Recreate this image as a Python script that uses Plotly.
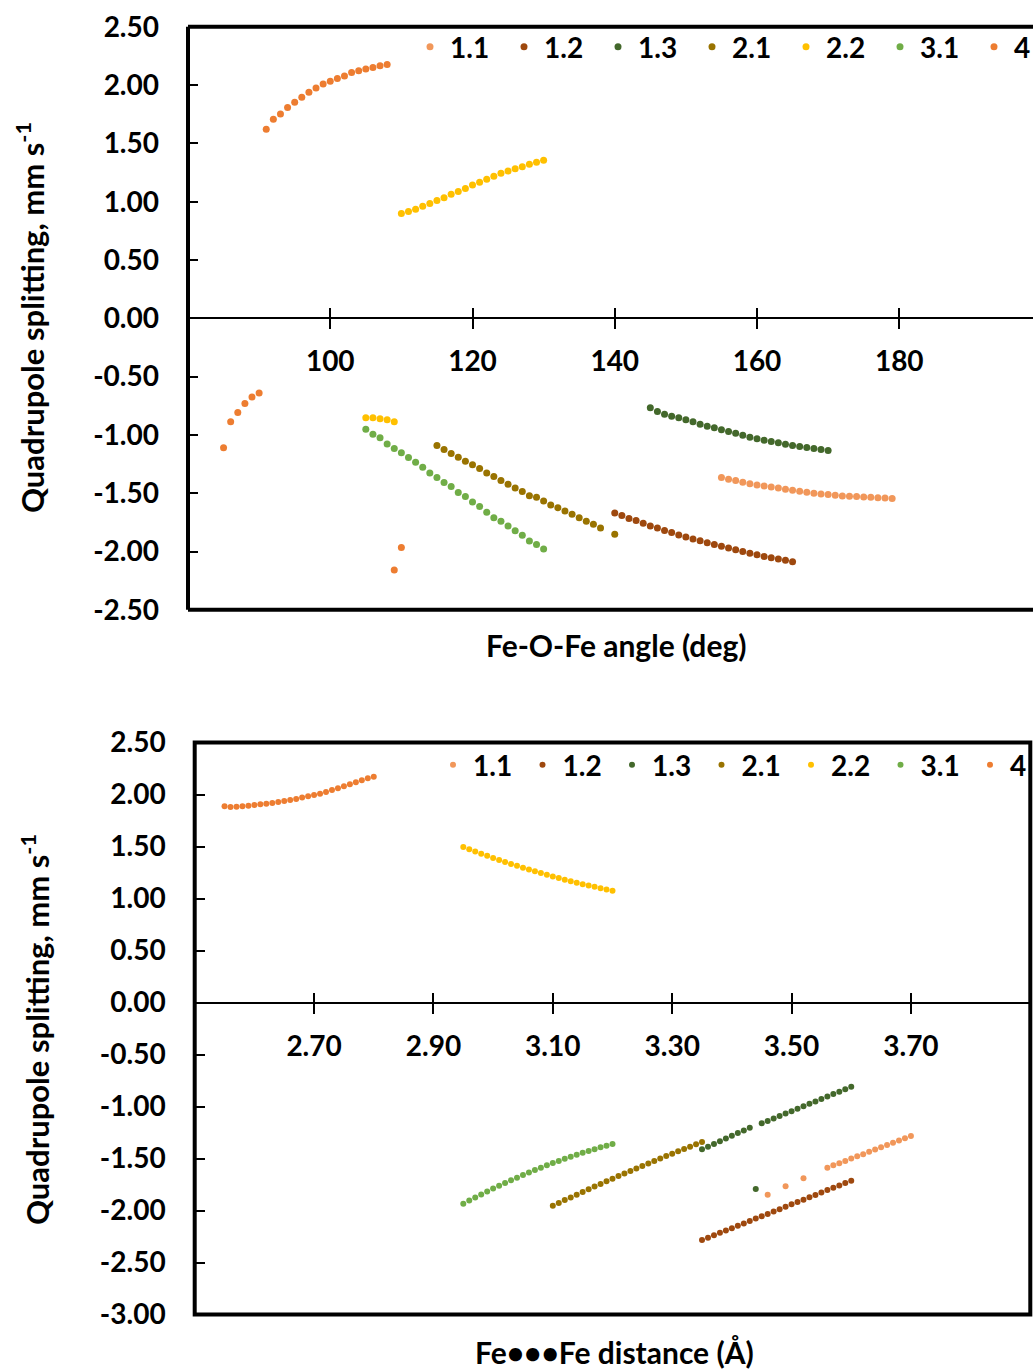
import plotly.graph_objects as go

W, H = 1033, 1369

# ---------------- DATA ----------------
series_names = ["1.1", "1.2", "1.3", "2.1", "2.2", "3.1", "4"]
series_colors = ["#F1975A", "#9E480E", "#43682B", "#997300", "#FFC000", "#70AD47", "#ED7D31"]

# Top panel: Fe-O-Fe angle (deg) vs quadrupole splitting
angle_11 = [155, 156, 157, 158, 159, 160, 161, 162, 163, 164, 165, 166, 167, 168, 169, 170,
            171, 172, 173, 174, 175, 176, 177, 178, 179]
qs_angle_11 = [-1.366, -1.380, -1.392, -1.406, -1.418, -1.429, -1.438, -1.446, -1.455, -1.466,
               -1.475, -1.483, -1.492, -1.501, -1.506, -1.512, -1.518, -1.523, -1.527, -1.529,
               -1.532, -1.535, -1.538, -1.541, -1.546]

angle_12 = [140, 141, 142, 143, 144, 145, 146, 147, 148, 149, 150, 151, 152, 153, 154, 155,
            156, 157, 158, 159, 160, 161, 162, 163, 164, 165]
qs_angle_12 = [-1.670, -1.692, -1.716, -1.735, -1.758, -1.781, -1.798, -1.819, -1.838, -1.858,
               -1.876, -1.893, -1.907, -1.924, -1.939, -1.956, -1.970, -1.985, -1.999, -2.014,
               -2.027, -2.042, -2.053, -2.065, -2.076, -2.088]

angle_13 = [145, 146, 147, 148, 149, 150, 151, 152, 153, 154, 155, 156, 157, 158, 159, 160,
            161, 162, 163, 164, 165, 166, 167, 168, 169, 170]
qs_angle_13 = [-0.767, -0.799, -0.822, -0.839, -0.853, -0.870, -0.888, -0.908, -0.925, -0.939,
               -0.956, -0.971, -0.985, -1.003, -1.020, -1.034, -1.045, -1.057, -1.068, -1.080,
               -1.091, -1.100, -1.108, -1.117, -1.125, -1.134]

angle_21 = [115, 116, 117, 118, 119, 120, 121, 122, 123, 124, 125, 126, 127, 128, 129, 130,
            131, 132, 133, 134, 135, 136, 137, 138, 140]
qs_angle_21 = [-1.091, -1.125, -1.160, -1.191, -1.226, -1.257, -1.289, -1.326, -1.357, -1.392,
               -1.423, -1.455, -1.486, -1.521, -1.535, -1.566, -1.601, -1.624, -1.652, -1.681,
               -1.710, -1.741, -1.767, -1.798, -1.853]

angle_22 = [105, 106, 107, 108, 109, 110, 111, 112, 113, 114, 115, 116, 117, 118, 119, 120,
            121, 122, 123, 124, 125, 126, 127, 128, 129, 130]
qs_angle_22 = [-0.853, -0.853, -0.862, -0.871, -0.888, 0.899, 0.917, 0.936, 0.962, 0.985,
               1.011, 1.034, 1.063, 1.088, 1.114, 1.143, 1.166, 1.192, 1.218, 1.243,
               1.263, 1.283, 1.300, 1.321, 1.338, 1.355]

angle_31 = [105, 106, 107, 108, 109, 110, 111, 112, 113, 114, 115, 116, 117, 118, 119, 120,
            121, 122, 123, 124, 125, 126, 127, 128, 129, 130]
qs_angle_31 = [-0.951, -0.994, -1.025, -1.077, -1.117, -1.154, -1.194, -1.234, -1.277, -1.326,
               -1.366, -1.409, -1.443, -1.495, -1.529, -1.575, -1.615, -1.664, -1.710, -1.741,
               -1.781, -1.821, -1.861, -1.910, -1.939, -1.979]

angle_4 = [85, 86, 87, 88, 89, 90, 91, 92, 93, 94, 95, 96, 97, 98, 99, 100,
           101, 102, 103, 104, 105, 106, 107, 108, 109, 110]
qs_angle_4 = [-1.111, -0.888, -0.808, -0.730, -0.676, -0.641, 1.621, 1.707, 1.753, 1.807,
              1.853, 1.896, 1.939, 1.976, 2.010, 2.034, 2.056, 2.079, 2.107, 2.122,
              2.139, 2.151, 2.165, 2.176, -2.159, -1.965]

# Bottom panel: Fe...Fe distance (A) vs quadrupole splitting
dist_11 = [3.46, 3.49, 3.52, 3.56, 3.57, 3.58, 3.59, 3.60, 3.61, 3.62, 3.63, 3.64, 3.65,
           3.66, 3.67, 3.68, 3.69, 3.70]
qs_dist_11 = [-1.848, -1.768, -1.691, -1.588, -1.566, -1.545, -1.523, -1.501, -1.479, -1.458,
              -1.436, -1.414, -1.393, -1.371, -1.349, -1.327, -1.306, -1.284]

dist_12 = [3.35, 3.36, 3.37, 3.38, 3.39, 3.40, 3.41, 3.42, 3.43, 3.44, 3.45, 3.46, 3.47,
           3.48, 3.49, 3.50, 3.51, 3.52, 3.53, 3.54, 3.55, 3.56, 3.57, 3.58, 3.59, 3.60]
qs_dist_12 = [-2.284, -2.261, -2.238, -2.215, -2.193, -2.170, -2.147, -2.124, -2.101, -2.078,
              -2.056, -2.033, -2.010, -1.987, -1.964, -1.941, -1.919, -1.896, -1.873, -1.850,
              -1.827, -1.804, -1.781, -1.759, -1.736, -1.713]

dist_13 = [3.35, 3.36, 3.37, 3.38, 3.39, 3.40, 3.41, 3.42, 3.43, 3.44, 3.45, 3.46, 3.47,
           3.48, 3.49, 3.50, 3.51, 3.52, 3.53, 3.54, 3.55, 3.56, 3.57, 3.58, 3.59, 3.60]
qs_dist_13 = [-1.412, -1.386, -1.360, -1.334, -1.308, -1.282, -1.256, -1.230, -1.204, -1.793,
              -1.162, -1.139, -1.115, -1.092, -1.068, -1.045, -1.021, -0.998, -0.974, -0.951,
              -0.927, -0.904, -0.880, -0.857, -0.833, -0.810]

dist_21 = [3.10, 3.11, 3.12, 3.13, 3.14, 3.15, 3.16, 3.17, 3.18, 3.19, 3.20, 3.21, 3.22,
           3.23, 3.24, 3.25, 3.26, 3.27, 3.28, 3.29, 3.30, 3.31, 3.32, 3.33, 3.34, 3.35]
qs_dist_21 = [-1.954, -1.927, -1.900, -1.874, -1.848, -1.821, -1.795, -1.770, -1.744, -1.719,
              -1.694, -1.669, -1.644, -1.620, -1.595, -1.571, -1.547, -1.524, -1.500, -1.477,
              -1.454, -1.431, -1.408, -1.386, -1.363, -1.341]

dist_22 = [2.95, 2.96, 2.97, 2.98, 2.99, 3.00, 3.01, 3.02, 3.03, 3.04, 3.05, 3.06, 3.07,
           3.08, 3.09, 3.10, 3.11, 3.12, 3.13, 3.14, 3.15, 3.16, 3.17, 3.18, 3.19, 3.20]
qs_dist_22 = [1.495, 1.473, 1.452, 1.431, 1.410, 1.390, 1.371, 1.351, 1.332, 1.314,
              1.296, 1.278, 1.261, 1.244, 1.228, 1.212, 1.196, 1.181, 1.166, 1.152,
              1.138, 1.125, 1.112, 1.099, 1.087, 1.075]

dist_31 = [2.95, 2.96, 2.97, 2.98, 2.99, 3.00, 3.01, 3.02, 3.03, 3.04, 3.05, 3.06, 3.07,
           3.08, 3.09, 3.10, 3.11, 3.12, 3.13, 3.14, 3.15, 3.16, 3.17, 3.18, 3.19, 3.20]
qs_dist_31 = [-1.935, -1.905, -1.875, -1.846, -1.817, -1.789, -1.762, -1.735, -1.709, -1.684,
              -1.659, -1.635, -1.611, -1.588, -1.566, -1.544, -1.523, -1.503, -1.483, -1.464,
              -1.445, -1.427, -1.410, -1.393, -1.377, -1.361]

dist_4 = [2.55, 2.56, 2.57, 2.58, 2.59, 2.60, 2.61, 2.62, 2.63, 2.64, 2.65, 2.66, 2.67,
          2.68, 2.69, 2.70, 2.71, 2.72, 2.73, 2.74, 2.75, 2.76, 2.77, 2.78, 2.79, 2.80]
qs_dist_4 = [1.887, 1.880, 1.883, 1.887, 1.893, 1.899, 1.906, 1.912, 1.918, 1.928,
             1.938, 1.947, 1.957, 1.970, 1.983, 1.995, 2.008, 2.024, 2.043, 2.059,
             2.079, 2.098, 2.117, 2.137, 2.156, 2.171]

top_x = [angle_11, angle_12, angle_13, angle_21, angle_22, angle_31, angle_4]
top_y = [qs_angle_11, qs_angle_12, qs_angle_13, qs_angle_21, qs_angle_22, qs_angle_31, qs_angle_4]
bot_x = [dist_11, dist_12, dist_13, dist_21, dist_22, dist_31, dist_4]
bot_y = [qs_dist_11, qs_dist_12, qs_dist_13, qs_dist_21, qs_dist_22, qs_dist_31, qs_dist_4]

angle_ticks = [100, 120, 140, 160, 180]
angle_ticktext = ["100", "120", "140", "160", "180"]
dist_ticks = [2.70, 2.90, 3.10, 3.30, 3.50, 3.70]
dist_ticktext = ["2.70", "2.90", "3.10", "3.30", "3.50", "3.70"]
top_qs_ticks = [2.5, 2.0, 1.5, 1.0, 0.5, 0.0, -0.5, -1.0, -1.5, -2.0, -2.5]
top_qs_ticktext = ["2.50", "2.00", "1.50", "1.00", "0.50", "0.00", "-0.50", "-1.00",
                   "-1.50", "-2.00", "-2.50"]
bot_qs_ticks = [2.5, 2.0, 1.5, 1.0, 0.5, 0.0, -0.5, -1.0, -1.5, -2.0, -2.5, -3.0]
bot_qs_ticktext = ["2.50", "2.00", "1.50", "1.00", "0.50", "0.00", "-0.50", "-1.00",
                   "-1.50", "-2.00", "-2.50", "-3.00"]

# ---------------- LAYOUT HELPERS ----------------
FAM = "Lato"
def f(size):
    return dict(family=FAM, size=size, color="black", weight="bold")

def px(xp):
    return xp / W

def py(yp):
    return 1 - yp / H

# panel geometry (pixels)
T_L, T_T, T_B = 188, 26.8, 609.8
B_L, B_R, B_T, B_B = 194.7, 1030.3, 742.5, 1314.5
top_zero = (T_T + T_B) / 2
bot_zero = B_T + (B_B - B_T) * 2.5 / 5.5

fig = go.Figure()

for name, col, xs, ys in zip(series_names, series_colors, top_x, top_y):
    kw = {"legendwidth": 18} if name == "4" else {}
    fig.add_trace(go.Scatter(x=xs, y=ys, mode="markers", name=name,
                             marker=dict(size=7, color=col),
                             xaxis="x", yaxis="y", legend="legend", **kw))
for name, col, xs, ys in zip(series_names, series_colors, bot_x, bot_y):
    kw = {"legendwidth": 20} if name == "4" else {}
    fig.add_trace(go.Scatter(x=xs, y=ys, mode="markers", name=name,
                             marker=dict(size=6, color=col),
                             xaxis="x2", yaxis="y2", legend="legend2", **kw))

# empty traces to carry the inside-tick overlay axes
fig.add_trace(go.Scatter(x=[], y=[], xaxis="x3", yaxis="y", showlegend=False, hoverinfo="skip"))
fig.add_trace(go.Scatter(x=[], y=[], xaxis="x4", yaxis="y2", showlegend=False, hoverinfo="skip"))

top_range = [80, 80 + (W - T_L) / 7.1125]
bot_range = [2.5, 3.9]

common_x = dict(showgrid=False, zeroline=False, tickcolor="black", tickwidth=2, ticklen=10)

fig.update_layout(
    width=W, height=H,
    margin=dict(l=0, r=0, t=0, b=0, autoexpand=False),
    paper_bgcolor="white", plot_bgcolor="white",
    showlegend=True,
    xaxis=dict(domain=[px(T_L), 1], range=top_range, anchor="free", position=py(top_zero),
               showline=True, linecolor="black", linewidth=2, ticks="outside",
               tickvals=angle_ticks, ticktext=angle_ticktext, tickfont=f(28),
               ticklabelstandoff=8, **common_x),
    xaxis3=dict(domain=[px(T_L), 1], range=top_range, anchor="free", position=py(top_zero),
                overlaying="x", showline=False, ticks="inside", tickvals=angle_ticks,
                showticklabels=False, **common_x),
    yaxis=dict(domain=[py(T_B), py(T_T)], range=[-2.5, 2.5], anchor="x",
               tickvals=top_qs_ticks, ticktext=top_qs_ticktext,
               ticks="inside", ticklen=10, tickwidth=2, tickcolor="black",
               showgrid=False, zeroline=False, showline=False, tickfont=f(28),
               ticklabelstandoff=28),
    xaxis2=dict(domain=[px(B_L), px(B_R)], range=bot_range, anchor="free", position=py(bot_zero),
                showline=True, linecolor="black", linewidth=2, ticks="outside",
                tickvals=dist_ticks, ticktext=dist_ticktext, tickfont=f(28),
                ticklabelstandoff=9, **common_x),
    xaxis4=dict(domain=[px(B_L), px(B_R)], range=bot_range, anchor="free", position=py(bot_zero),
                overlaying="x2", showline=False, ticks="inside", tickvals=dist_ticks,
                showticklabels=False, **common_x),
    yaxis2=dict(domain=[py(B_B), py(B_T)], range=[-3.0, 2.5], anchor="x2",
                tickvals=bot_qs_ticks, ticktext=bot_qs_ticktext,
                ticks="inside", ticklen=10, tickwidth=2, tickcolor="black",
                showgrid=False, zeroline=False, showline=False, tickfont=f(28),
                ticklabelstandoff=28),
    legend=dict(orientation="h", x=px(410), xanchor="left", y=py(47), yanchor="middle",
                font=f(28), bgcolor="rgba(0,0,0,0)", entrywidth=49, entrywidthmode="pixels",
                itemwidth=30, tracegroupgap=0),
    legend2=dict(orientation="h", x=px(433), xanchor="left", y=py(765), yanchor="middle",
                 font=f(28), bgcolor="rgba(0,0,0,0)", entrywidth=44.5, entrywidthmode="pixels",
                 itemwidth=30, tracegroupgap=0),
)

# plot frames
LW = 4
shapes = [
    dict(type="line", xref="paper", yref="paper", x0=px(T_L), x1=px(T_L), y0=py(T_B), y1=py(T_T)),
    dict(type="line", xref="paper", yref="paper", x0=px(T_L), x1=1.01, y0=py(T_T), y1=py(T_T)),
    dict(type="line", xref="paper", yref="paper", x0=px(T_L), x1=1.01, y0=py(T_B), y1=py(T_B)),
    dict(type="rect", xref="paper", yref="paper", x0=px(B_L), x1=px(B_R), y0=py(B_B), y1=py(B_T)),
]
for s in shapes:
    s["line"] = dict(color="black", width=LW)
    s["layer"] = "above"
fig.update_layout(shapes=shapes)

ytitle = "Quadrupole splitting, mm s<sup>-1</sup>"
fig.add_annotation(text=ytitle, x=px(30), y=py(318), xref="paper", yref="paper",
                   textangle=-90, showarrow=False, font=f(31), xanchor="center", yanchor="middle")
fig.add_annotation(text=ytitle, x=px(35), y=py(1030), xref="paper", yref="paper",
                   textangle=-90, showarrow=False, font=f(31), xanchor="center", yanchor="middle")
fig.add_annotation(text="Fe-O-Fe angle (deg)", x=px(616), y=py(645), xref="paper", yref="paper",
                   showarrow=False, font=f(30), xanchor="center", yanchor="middle")
fig.add_annotation(text="Fe•••Fe distance (Å)", x=px(614), y=py(1352), xref="paper", yref="paper",
                   showarrow=False, font=f(30), xanchor="center", yanchor="middle")

fig.write_html("out.html")
